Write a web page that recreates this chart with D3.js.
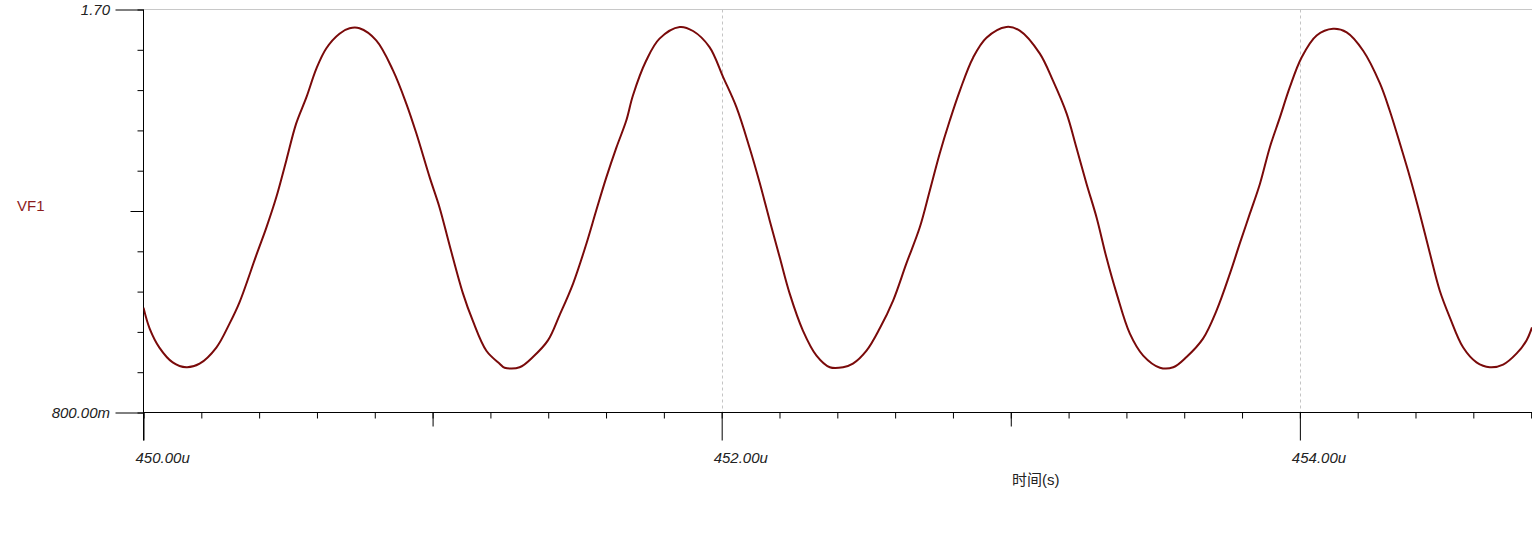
<!DOCTYPE html>
<meta charset="utf-8">
<style>
    body { margin: 0; background: #fff; }
    svg { display: block; font-family: "Liberation Sans", Arial, sans-serif; }
</style>
<svg width="1532" height="540"></svg>

<script src="https://d3js.org/d3.v7.min.js"></script>
<script>
    // time in microseconds
    var timeUs = [450.000, 450.021, 450.055, 450.101, 450.148, 450.194, 450.252, 450.298, 450.332, 450.390,
        450.425, 450.459, 450.494, 450.528, 450.563, 450.598, 450.632, 450.678, 450.713, 450.747,
        450.805, 450.863, 450.909, 450.944, 450.990, 451.024, 451.059, 451.105, 451.139, 451.186,
        451.232, 451.249, 451.301, 451.347, 451.399, 451.439, 451.486, 451.532, 451.566, 451.601,
        451.636, 451.670, 451.693, 451.739, 451.785, 451.855, 451.901, 451.958, 452.005, 452.051,
        452.097, 452.131, 452.166, 452.201, 452.235, 452.281, 452.328, 452.374, 452.420, 452.454,
        452.501, 452.547, 452.593, 452.639, 452.685, 452.720, 452.754, 452.789, 452.824, 452.870,
        452.916, 452.985, 453.031, 453.100, 453.146, 453.193, 453.227, 453.262, 453.297, 453.331,
        453.366, 453.412, 453.458, 453.516, 453.562, 453.608, 453.665, 453.712, 453.758,
        453.792, 453.827, 453.862, 453.896, 453.931, 453.965, 454.006, 454.058, 454.115, 454.162,
        454.219, 454.277, 454.311, 454.346, 454.381, 454.415, 454.450, 454.484, 454.519, 454.565,
        454.611, 454.657, 454.703, 454.750, 454.784, 454.803];
    var vf1 = [1.034, 0.988, 0.945, 0.912, 0.901, 0.909, 0.945, 0.999, 1.046, 1.151,
        1.213, 1.280, 1.363, 1.445, 1.503, 1.568, 1.613, 1.646, 1.658, 1.658,
        1.631, 1.564, 1.490, 1.423, 1.325, 1.258, 1.173, 1.066, 1.005, 0.938,
        0.909, 0.900, 0.901, 0.924, 0.961, 1.017, 1.088, 1.177, 1.251, 1.325,
        1.392, 1.452, 1.508, 1.586, 1.635, 1.661, 1.652, 1.616, 1.549, 1.482,
        1.390, 1.314, 1.229, 1.146, 1.066, 0.983, 0.927, 0.901, 0.901, 0.909,
        0.938, 0.988, 1.050, 1.133, 1.213, 1.296, 1.378, 1.452, 1.519, 1.593,
        1.637, 1.661, 1.653, 1.602, 1.541, 1.468, 1.392, 1.311, 1.235, 1.146,
        1.066, 0.976, 0.927, 0.900, 0.901, 0.924, 0.965, 1.028, 1.110,
        1.177, 1.244, 1.311, 1.392, 1.459, 1.526, 1.593, 1.642, 1.657, 1.649,
        1.608, 1.535, 1.474, 1.401, 1.325, 1.244, 1.155, 1.072, 1.012, 0.945,
        0.912, 0.901, 0.907, 0.932, 0.961, 0.990];

    var xMinorTicks = d3.range(0, 25).map(function (i) { return 450 + i * 0.2; }),
        xMajorTicks = [451, 453],
        xLabelTicks = [450, 452, 454],
        xLabels = ["450.00u", "452.00u", "454.00u"],
        yMinorTicks = d3.range(0, 11).map(function (i) { return 0.8 + i * 0.09; }),
        yMidTicks = [1.25],
        yLabelTicks = [0.8, 1.7],
        yLabels = ["800.00m", "1.70"];

    var svg = d3.select("svg"),
        LEFT = 143.5,
        RIGHT = 1532,
        TOP = 9.5,
        BOTTOM = 412.5,
        TRACE = "#7a0a0a",
        x = d3.scaleLinear().domain([450, 454.803]).range([LEFT, RIGHT]),
        y = d3.scaleLinear().domain([0.8, 1.7]).range([BOTTOM, TOP]);

    // top border + dashed grid at labelled times
    svg.append("line")
        .attr("x1", LEFT).attr("x2", RIGHT)
        .attr("y1", TOP).attr("y2", TOP)
        .attr("stroke", "#c8c8c8");

    svg.selectAll(".vgrid")
        .data([452, 454])
        .enter()
        .append("line")
        .attr("class", "vgrid")
        .attr("x1", function (d) { return Math.round(x(d)) + 0.5; })
        .attr("x2", function (d) { return Math.round(x(d)) + 0.5; })
        .attr("y1", TOP)
        .attr("y2", BOTTOM)
        .attr("stroke", "#c4c4c4")
        .attr("stroke-dasharray", "3,3");

    function tickAxis(axis, values, size, g) {
        return g.call(axis.tickValues(values).tickSize(size).tickSizeOuter(0).tickFormat(""))
            .call(function (s) {
                s.select(".domain").remove();
                s.selectAll("line").attr("stroke", "#000");
            });
    }

    var xg = svg.append("g").attr("transform", "translate(0," + BOTTOM + ")");
    tickAxis(d3.axisBottom(x), xMinorTicks, 6, xg.append("g"));
    tickAxis(d3.axisBottom(x), xMajorTicks, 14, xg.append("g"));
    tickAxis(d3.axisBottom(x), xLabelTicks, 28, xg.append("g"));

    var yg = svg.append("g").attr("transform", "translate(" + LEFT + ",0)");
    tickAxis(d3.axisLeft(y), yMinorTicks, 6, yg.append("g"));
    tickAxis(d3.axisLeft(y), yMidTicks, 13, yg.append("g"));
    tickAxis(d3.axisLeft(y), yLabelTicks, 28, yg.append("g"));

    // axis lines
    svg.append("line")
        .attr("x1", LEFT).attr("x2", LEFT)
        .attr("y1", TOP).attr("y2", BOTTOM + 28)
        .attr("stroke", "#000");
    svg.append("line")
        .attr("x1", LEFT).attr("x2", RIGHT)
        .attr("y1", BOTTOM).attr("y2", BOTTOM)
        .attr("stroke", "#000");

    svg.selectAll(".xlab")
        .data(xLabelTicks)
        .enter()
        .append("text")
        .attr("class", "xlab")
        .attr("x", function (d) { return x(d) - 8; })
        .attr("y", 463)
        .attr("font-size", 15)
        .attr("font-style", "italic")
        .attr("fill", "#222")
        .text(function (d, i) { return xLabels[i]; });

    svg.selectAll(".ylab")
        .data(yLabelTicks)
        .enter()
        .append("text")
        .attr("class", "ylab")
        .attr("x", 110)
        .attr("y", function (d) { return y(d); })
        .attr("dy", "0.35em")
        .attr("text-anchor", "end")
        .attr("font-size", 15)
        .attr("font-style", "italic")
        .attr("fill", "#222")
        .text(function (d, i) { return yLabels[i]; });

    svg.append("text")
        .attr("x", 1012)
        .attr("y", 485)
        .attr("font-size", 15)
        .attr("fill", "#222")
        .style("font-family", "'Liberation Sans', 'Noto Sans CJK SC', sans-serif")
        .text("时间(s)");

    svg.append("text")
        .attr("x", 17)
        .attr("y", 211)
        .attr("font-size", 15)
        .attr("fill", "#8c1c1c")
        .text("VF1");

    // trace
    var points = timeUs.map(function (t, i) { return [t, vf1[i]]; });

    svg.append("clipPath").attr("id", "plot")
        .append("rect")
        .attr("x", LEFT).attr("y", TOP)
        .attr("width", RIGHT - LEFT).attr("height", BOTTOM - TOP);

    svg.append("path")
        .datum(points)
        .attr("clip-path", "url(#plot)")
        .attr("fill", "none")
        .attr("stroke", TRACE)
        .attr("stroke-width", 2)
        .attr("stroke-linejoin", "round")
        .attr("d", d3.line()
            .curve(d3.curveCatmullRom.alpha(0.5))
            .x(function (d) { return x(d[0]); })
            .y(function (d) { return y(d[1]); }));
</script>
